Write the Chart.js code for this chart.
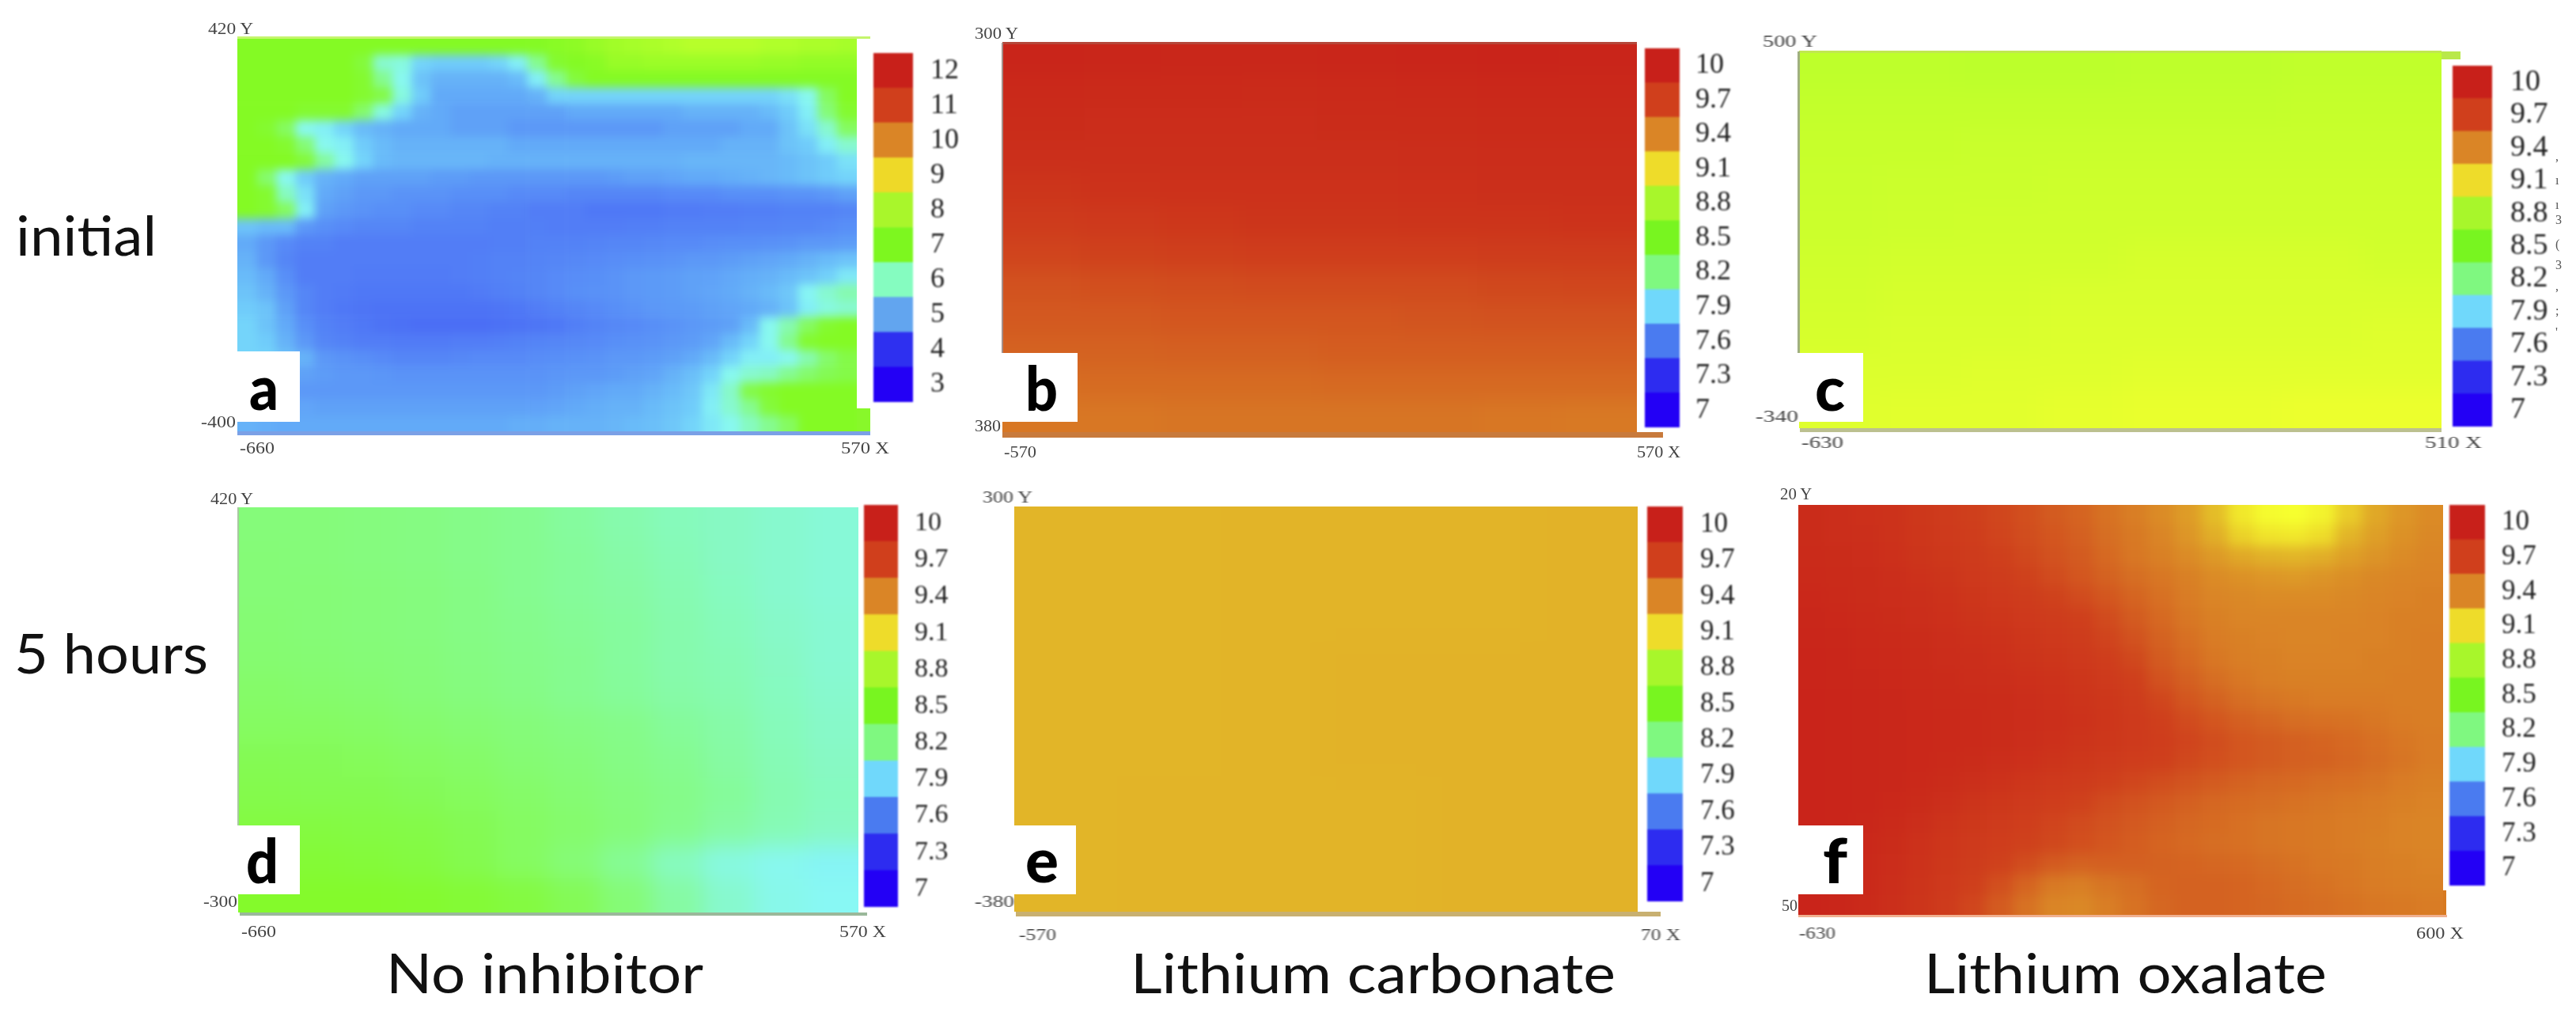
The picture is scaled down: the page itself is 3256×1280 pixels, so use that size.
<!DOCTYPE html>
<html><head><meta charset="utf-8">
<style>
html,body{margin:0;padding:0;background:#fff;width:3256px;height:1280px;overflow:hidden}
.abs{position:absolute}
.txt{position:absolute;white-space:nowrap;transform-origin:0 0}
</style>
<script src="https://cdn.jsdelivr.net/npm/chart.js@4/dist/chart.umd.min.js"></script>
</head><body>
<div id="page" class="abs" style="left:0;top:0;width:3256px;height:1280px"></div>
<script>
// ---- colour-bar tick labels ----
const ticksA = ['3','4','5','6','7','8','9','10','11','12'];
const ticksB = ['7','7.3','7.6','7.9','8.2','8.5','8.8','9.1','9.4','9.7','10'];
const bandsA = ['#2300f5','#2e30f0','#62a5ef','#85fcc0','#7df71f','#a9f62b','#eed928','#da8526','#d03f1c','#c8201a'];
const bandsB = ['#2300f5','#2d2cf0','#4a7bf0','#70d8fb','#7ff880','#78f520','#a8f62b','#eedc2a','#da8526','#d03f1c','#c8201a'];

// ---- pH maps (top row first, left column first) ----
const phA = [
[7.5,7.5,7.5,7.5,7.5,7.5,7.5,7.5,7.5,7.5,7.5,7.5,7.5,7.5,7.5,7.5,7.6,7.7,7.9,8.1,8.2,8.3,8.4,8.5,8.5,8.5,8.5,8.4,8.4,8.3,8.3,8.2],
[7.5,7.5,7.5,7.5,7.5,7.5,7.3,6.2,6.1,5.7,5.6,5.6,5.6,5.7,5.9,6.6,7.4,7.5,7.6,7.9,7.9,8.0,8.0,8.0,8.0,8.0,8.0,7.9,7.9,7.8,7.8,7.8],
[7.5,7.5,7.5,7.5,7.5,7.5,7.4,6.6,6.0,5.5,5.3,5.3,5.3,5.3,5.4,5.9,6.6,7.3,7.5,7.5,7.5,7.5,7.5,7.5,7.5,7.5,7.5,7.5,7.5,7.5,7.5,7.5],
[7.5,7.5,7.5,7.5,7.5,7.5,7.4,7.2,6.1,5.6,5.2,5.2,5.2,5.2,5.2,5.3,5.7,5.7,5.7,5.7,5.7,5.7,5.7,5.7,5.7,5.7,5.7,5.7,5.8,6.0,7.0,7.5],
[7.5,7.5,7.5,7.4,7.4,7.4,6.9,6.1,5.7,5.3,5.2,5.1,5.1,5.1,5.1,5.1,5.1,5.2,5.2,5.2,5.2,5.2,5.2,5.3,5.3,5.3,5.3,5.4,5.6,5.9,6.8,7.4],
[7.5,7.4,7.0,6.0,5.9,5.7,5.4,5.3,5.2,5.2,5.2,5.1,5.1,5.1,5.0,5.0,5.0,5.0,5.0,5.0,5.0,5.0,5.1,5.1,5.1,5.1,5.2,5.2,5.5,5.8,6.2,7.0],
[7.5,7.5,7.4,6.8,6.0,5.9,5.6,5.4,5.3,5.3,5.3,5.3,5.3,5.3,5.2,5.2,5.2,5.2,5.2,5.2,5.2,5.2,5.2,5.2,5.2,5.3,5.3,5.3,5.5,5.6,5.9,6.2],
[7.5,7.5,7.5,7.3,6.5,6.0,5.7,5.4,5.35,5.35,5.35,5.35,5.35,5.3,5.3,5.3,5.3,5.3,5.3,5.3,5.3,5.3,5.3,5.35,5.35,5.35,5.35,5.35,5.4,5.5,5.6,5.8],
[7.5,6.9,6.0,5.6,5.3,5.2,5.1,5.1,5.1,5.1,5.05,5.05,5.0,5.0,5.0,5.0,5.0,5.0,5.0,5.05,5.1,5.1,5.15,5.2,5.2,5.25,5.3,5.35,5.4,5.5,5.6,5.7],
[7.5,7.4,6.3,5.8,5.2,5.1,5.0,5.0,4.95,4.95,4.95,4.9,4.9,4.9,4.85,4.85,4.85,4.8,4.8,4.8,4.8,4.8,4.85,4.85,4.85,4.9,4.9,4.9,4.95,4.95,5.0,5.1],
[7.5,7.4,7.0,5.9,5.1,5.0,4.95,4.9,4.9,4.85,4.85,4.8,4.8,4.75,4.75,4.7,4.7,4.7,4.65,4.65,4.65,4.65,4.68,4.68,4.7,4.7,4.72,4.72,4.75,4.75,4.75,4.8],
[5.5,5.4,5.4,5.0,4.9,4.85,4.8,4.8,4.8,4.75,4.75,4.75,4.75,4.72,4.72,4.72,4.7,4.7,4.7,4.7,4.72,4.72,4.75,4.75,4.75,4.75,4.78,4.78,4.8,4.8,4.85,4.9],
[5.2,5.0,4.85,4.75,4.75,4.7,4.7,4.7,4.7,4.7,4.7,4.7,4.7,4.72,4.72,4.75,4.75,4.75,4.78,4.8,4.8,4.82,4.85,4.85,4.88,4.9,4.9,4.92,4.95,5.0,5.0,5.05],
[5.3,5.0,4.8,4.7,4.7,4.7,4.7,4.7,4.7,4.7,4.7,4.7,4.72,4.75,4.75,4.78,4.8,4.82,4.85,4.88,4.9,4.92,4.95,5.0,5.0,5.05,5.1,5.15,5.2,5.3,5.4,5.5],
[5.4,5.2,4.9,4.7,4.7,4.7,4.68,4.68,4.68,4.68,4.68,4.7,4.72,4.75,4.78,4.8,4.85,4.88,4.9,4.95,5.0,5.02,5.05,5.1,5.12,5.18,5.25,5.3,5.4,5.5,5.65,5.85],
[5.5,5.3,5.0,4.8,4.7,4.68,4.65,4.65,4.65,4.65,4.65,4.65,4.68,4.72,4.75,4.8,4.85,4.9,4.92,4.95,5.0,5.02,5.05,5.1,5.15,5.2,5.3,5.4,5.55,5.95,6.2,6.4],
[5.6,5.5,5.1,4.8,4.7,4.65,4.62,4.6,4.6,4.6,4.6,4.6,4.6,4.62,4.65,4.7,4.75,4.8,4.85,4.9,4.95,5.0,5.02,5.05,5.1,5.15,5.2,5.3,5.5,5.9,6.1,6.2],
[5.7,5.5,5.2,4.9,4.75,4.7,4.65,4.6,4.58,4.55,4.55,4.55,4.55,4.58,4.6,4.62,4.65,4.72,4.78,4.82,4.85,4.9,4.95,5.0,5.05,5.1,5.4,6.0,6.4,7.0,7.4,7.5],
[5.7,5.6,5.3,5.0,4.8,4.75,4.7,4.7,4.68,4.68,4.68,4.7,4.7,4.72,4.75,4.78,4.8,4.82,4.85,4.9,4.92,4.95,5.0,5.05,5.15,5.4,5.7,6.0,6.6,7.4,7.5,7.5],
[5.7,5.7,5.5,5.3,5.0,4.95,4.9,4.85,4.8,4.8,4.8,4.82,4.85,4.85,4.85,4.88,4.9,4.92,4.95,5.0,5.0,5.05,5.1,5.2,5.4,5.7,5.9,5.9,6.0,6.4,6.9,7.2],
[5.5,5.4,5.2,5.1,5.05,5.0,5.0,4.98,4.95,4.95,4.95,4.95,4.95,4.95,4.95,4.95,4.98,5.0,5.0,5.05,5.1,5.15,5.3,5.45,5.7,6.0,6.2,6.3,6.6,6.9,7.1,7.2],
[5.3,5.2,5.1,5.0,5.0,5.0,5.0,5.0,5.0,5.0,5.0,5.0,5.0,5.0,5.0,5.0,5.05,5.1,5.15,5.2,5.2,5.3,5.4,5.55,5.85,6.25,7.2,7.4,7.5,7.5,7.5,7.5],
[5.3,5.25,5.2,5.15,5.1,5.1,5.1,5.1,5.1,5.1,5.1,5.1,5.1,5.1,5.1,5.12,5.15,5.2,5.25,5.3,5.3,5.4,5.5,5.6,5.9,6.2,6.6,7.3,7.5,7.5,7.5,7.5],
[5.3,5.25,5.2,5.2,5.2,5.2,5.2,5.2,5.2,5.2,5.2,5.2,5.2,5.2,5.25,5.25,5.3,5.3,5.3,5.35,5.4,5.45,5.55,5.7,5.85,6.0,6.3,6.6,7.0,7.5,7.5,7.5]
];
const phB = [
[9.95,9.94,9.93,9.93,9.94,9.95,9.96,9.95],
[9.91,9.9,9.9,9.89,9.9,9.91,9.92,9.92],
[9.88,9.87,9.87,9.87,9.88,9.88,9.89,9.89],
[9.85,9.85,9.85,9.85,9.85,9.86,9.87,9.87],
[9.8,9.82,9.83,9.83,9.83,9.84,9.85,9.85],
[9.74,9.76,9.78,9.8,9.8,9.81,9.81,9.82],
[9.68,9.69,9.7,9.72,9.72,9.72,9.73,9.73],
[9.62,9.63,9.64,9.65,9.65,9.65,9.66,9.67],
[9.59,9.59,9.6,9.6,9.6,9.61,9.62,9.62],
[9.55,9.55,9.56,9.56,9.57,9.57,9.57,9.57],
[9.5,9.51,9.51,9.51,9.52,9.52,9.52,9.52],
[9.46,9.46,9.47,9.47,9.47,9.47,9.46,9.45]
];
const phC = [
[8.87,8.87,8.86,8.86,8.87,8.87,8.88,8.88],
[8.89,8.89,8.89,8.89,8.89,8.89,8.9,8.9],
[8.91,8.91,8.92,8.92,8.92,8.92,8.92,8.92],
[8.92,8.93,8.93,8.94,8.94,8.94,8.94,8.94],
[8.93,8.94,8.95,8.95,8.95,8.95,8.95,8.95],
[8.95,8.96,8.96,8.96,8.97,8.97,8.97,8.96],
[8.96,8.97,8.97,8.98,8.98,8.98,8.98,8.98],
[8.97,8.98,8.98,8.99,8.99,8.99,8.99,9.0],
[8.99,8.99,9.0,9.0,9.01,9.01,9.01,9.01],
[9.0,9.01,9.01,9.02,9.03,9.03,9.04,9.04]
];
const phD = [
[8.26,8.26,8.25,8.24,8.22,8.2,8.17,8.14,8.11,8.09,8.07,8.05],
[8.27,8.26,8.25,8.24,8.22,8.2,8.18,8.15,8.12,8.09,8.07,8.05],
[8.27,8.27,8.26,8.25,8.23,8.2,8.18,8.16,8.13,8.1,8.07,8.05],
[8.28,8.27,8.26,8.25,8.23,8.21,8.19,8.17,8.14,8.11,8.08,8.06],
[8.29,8.28,8.27,8.26,8.24,8.22,8.2,8.17,8.14,8.12,8.09,8.06],
[8.31,8.3,8.29,8.27,8.25,8.23,8.2,8.18,8.15,8.13,8.1,8.07],
[8.33,8.33,8.32,8.3,8.28,8.26,8.24,8.22,8.18,8.15,8.11,8.08],
[8.37,8.36,8.35,8.33,8.31,8.28,8.26,8.23,8.2,8.16,8.12,8.09],
[8.39,8.38,8.38,8.36,8.34,8.31,8.28,8.25,8.22,8.18,8.13,8.1],
[8.42,8.42,8.41,8.4,8.37,8.33,8.3,8.26,8.21,8.16,8.12,8.09],
[8.45,8.45,8.44,8.42,8.38,8.33,8.27,8.19,8.1,8.03,8.0,7.98],
[8.48,8.48,8.48,8.47,8.45,8.42,8.36,8.27,8.16,8.07,8.01,7.99]
];
const phE = [
[9.235,9.235,9.24,9.24,9.24,9.245],
[9.235,9.235,9.24,9.24,9.24,9.245],
[9.235,9.235,9.24,9.245,9.245,9.245],
[9.235,9.235,9.24,9.245,9.245,9.245],
[9.235,9.24,9.24,9.24,9.245,9.245],
[9.235,9.24,9.24,9.24,9.245,9.245]
];
const phF = [
[9.88,9.86,9.84,9.82,9.78,9.74,9.7,9.67,9.63,9.58,9.54,9.48,9.43,9.38,9.32,9.22,9.13,9.08,9.07,9.1,9.19,9.28,9.34,9.38],
[9.88,9.86,9.85,9.82,9.79,9.75,9.72,9.68,9.64,9.6,9.56,9.5,9.45,9.4,9.34,9.26,9.18,9.14,9.13,9.16,9.24,9.31,9.36,9.39],
[9.89,9.88,9.87,9.84,9.8,9.77,9.74,9.7,9.66,9.62,9.58,9.52,9.46,9.42,9.38,9.33,9.28,9.25,9.24,9.26,9.31,9.35,9.38,9.4],
[9.9,9.89,9.88,9.86,9.83,9.8,9.76,9.73,9.69,9.65,9.6,9.55,9.5,9.46,9.42,9.38,9.36,9.34,9.33,9.35,9.37,9.39,9.4,9.41],
[9.92,9.9,9.88,9.87,9.85,9.82,9.79,9.76,9.73,9.69,9.65,9.6,9.54,9.49,9.44,9.4,9.39,9.38,9.38,9.38,9.39,9.4,9.41,9.42],
[9.93,9.92,9.9,9.88,9.86,9.84,9.81,9.79,9.76,9.73,9.7,9.65,9.58,9.52,9.46,9.42,9.4,9.4,9.4,9.4,9.4,9.41,9.42,9.42],
[9.94,9.93,9.91,9.9,9.88,9.86,9.84,9.82,9.79,9.76,9.73,9.68,9.62,9.55,9.49,9.44,9.42,9.41,9.4,9.4,9.41,9.41,9.42,9.43],
[9.95,9.94,9.92,9.91,9.89,9.87,9.86,9.84,9.81,9.79,9.76,9.72,9.66,9.58,9.52,9.46,9.43,9.42,9.41,9.41,9.41,9.42,9.42,9.43],
[9.95,9.94,9.93,9.92,9.9,9.89,9.87,9.86,9.84,9.82,9.79,9.75,9.7,9.62,9.56,9.5,9.46,9.43,9.42,9.42,9.42,9.42,9.43,9.43],
[9.96,9.95,9.94,9.93,9.91,9.9,9.89,9.88,9.86,9.84,9.81,9.78,9.73,9.67,9.6,9.55,9.5,9.47,9.45,9.44,9.44,9.44,9.43,9.43],
[9.96,9.95,9.94,9.93,9.92,9.91,9.9,9.88,9.87,9.85,9.82,9.79,9.75,9.7,9.65,9.6,9.56,9.53,9.5,9.49,9.48,9.46,9.44,9.43],
[9.96,9.95,9.94,9.93,9.92,9.91,9.9,9.88,9.86,9.84,9.81,9.78,9.75,9.72,9.68,9.64,9.6,9.58,9.56,9.54,9.52,9.49,9.46,9.44],
[9.96,9.95,9.94,9.93,9.92,9.9,9.88,9.86,9.84,9.81,9.78,9.75,9.72,9.7,9.66,9.63,9.6,9.58,9.56,9.55,9.53,9.5,9.47,9.44],
[9.96,9.95,9.94,9.93,9.91,9.88,9.85,9.82,9.79,9.76,9.74,9.7,9.67,9.64,9.61,9.58,9.55,9.53,9.52,9.5,9.49,9.47,9.44,9.42],
[9.96,9.95,9.94,9.92,9.89,9.85,9.81,9.78,9.75,9.72,9.69,9.65,9.62,9.59,9.56,9.53,9.51,9.5,9.48,9.47,9.45,9.44,9.42,9.41],
[9.96,9.95,9.93,9.9,9.86,9.81,9.77,9.74,9.71,9.68,9.65,9.62,9.59,9.56,9.53,9.51,9.49,9.47,9.46,9.45,9.44,9.43,9.41,9.4],
[9.96,9.95,9.92,9.88,9.83,9.79,9.75,9.72,9.69,9.66,9.63,9.6,9.57,9.54,9.52,9.5,9.49,9.47,9.46,9.45,9.44,9.42,9.41,9.4],
[9.96,9.94,9.91,9.87,9.82,9.77,9.73,9.69,9.64,9.58,9.55,9.56,9.56,9.55,9.54,9.53,9.52,9.5,9.48,9.46,9.45,9.43,9.42,9.41],
[9.96,9.94,9.91,9.86,9.81,9.76,9.7,9.63,9.54,9.45,9.43,9.47,9.5,9.54,9.55,9.55,9.54,9.52,9.5,9.48,9.46,9.44,9.43,9.42],
[9.96,9.94,9.9,9.85,9.8,9.74,9.67,9.58,9.48,9.4,9.39,9.43,9.48,9.53,9.55,9.55,9.54,9.53,9.51,9.5,9.48,9.46,9.45,9.44]
];

// ---- continuous colour ramp used for the map cells, position on the scale -> colour ----
const rampStops = [0,.1,.19,.25,.3,.33,.4,.5,.6,.65,.69,.72,.745,.8,.9,.98,1];
const rampColors = ['#2300f5','#2d2cf0','#527ef6','#64aef8','#74d4fa','#88f8f4','#85fb90','#84fa24','#b0ff2a','#cfff2c','#f6ff2e','#eedc2a','#e2b528','#da8526','#cf3f1c','#c9261a','#c8201a'];

// ---- panel layout ----
const panels = [
 {ph:phA,xr:[-660,570],yr:[-400,420],plot:[300,48,1083,545],blur:6,ticks:ticksA,bands:bandsA,vr:[3,12],
  bar:[1104,67,1154,508],barFont:36,labelX:1176,box:[300,444,379,533],letter:['a',315,518,37],
  axis:[['420 Y',263,43,58],['-400',254,540,44],['-660',303,573,44],['570 X',1063,573,61]],
  strips:[[1083,516,17,29,'#88f82a'],[300,46,800,3,'#c4f56c'],[300,545,800,5,'#7ba0e6']]},
 {ph:phB,xr:[-570,570],yr:[-380,300],plot:[1267,54,2069,546],blur:13,ticks:ticksB,bands:bandsB,vr:[7,10],
  bar:[2079,61,2123,540],barFont:36,labelX:2143,box:[1267,446,1362,533],letter:['b',1296,519,41],
  axis:[['300 Y',1232,49,56],['380',1232,545,33],['-570',1269,578,41],['570 X',2069,578,55]],
  strips:[[1267,53,802,3,'#b5473a'],[1267,546,835,7,'#c87a3c'],[1266,54,2,392,'#a58e88']]},
 {ph:phC,xr:[-630,510],yr:[-340,500],plot:[2274,65,3086,541],blur:15,ticks:ticksB,bands:bandsB,vr:[7,10],
  bar:[3100,83,3150,539],barFont:38,labelX:3173,box:[2274,446,2355,533],letter:['c',2294,519,38],
  axis:[['500 Y',2228,59,70],['-340',2219,533,54],['-630',2277,566,53],['510 X',3065,566,72]],
  strips:[[3086,65,24,10,'#b9e84a'],[2274,64,812,3,'#c0e850'],[2275,541,811,5,'#bcc090'],[2272,65,3,381,'#a0b080']]},
 {ph:phD,xr:[-660,570],yr:[-300,420],plot:[301,641,1085,1153],blur:14,ticks:ticksB,bands:bandsB,vr:[7,10],
  bar:[1092,638,1135,1146],barFont:34,labelX:1156,box:[301,1043,379,1130],letter:['d',311,1116,41],
  axis:[['420 Y',266,637,55],['-300',257,1146,43],['-660',305,1184,44],['570 X',1061,1184,59]],
  strips:[[303,1153,793,4,'#9ab89a'],[300,641,2,402,'#a8c8a0']]},
 {ph:phE,xr:[-570,70],yr:[-380,300],plot:[1282,640,2070,1152],blur:25,ticks:ticksB,bands:bandsB,vr:[7,10],
  bar:[2082,640,2127,1139],barFont:35,labelX:2149,box:[1282,1043,1360,1130],letter:['e',1296,1115,42],
  axis:[['300 Y',1242,635,64],['-380',1232,1146,50],['-570',1288,1188,47],['70 X',2074,1188,50]],
  strips:[[1284,1152,815,6,'#c8b070']]},
 {ph:phF,xr:[-630,600],yr:[-350,420],plot:[2273,638,3088,1156],blur:8,ticks:ticksB,bands:bandsB,vr:[7,10],
  bar:[3096,638,3141,1119],barFont:35,labelX:3162,box:[2273,1043,2355,1130],letter:['f',2304,1116,31],
  axis:[['20 Y',2250,631,41],['50',2252,1151,20],['-630',2274,1186,46],['600 X',3054,1186,60]],
  strips:[[3088,1125,4,31,'#d87a20'],[2273,1156,820,3,'#f0b090']]}
];
const titles = [['initial',20,323,178],['5 hours',18,851,245],['No inhibitor',488,1255,401],['Lithium carbonate',1429,1255,613],['Lithium oxalate',2432,1255,509]];
const strayMarks = [[',',203],['ı',233],['ı',264],['3',283],['(',314],['3',340],[',',367],[';',398],["'",425]];

// ---- helpers ----
const page = document.getElementById('page');
function hexRgb(h){return [1,3,5].map(i=>parseInt(h.substr(i,2),16));}
function rampColor(t){
  t=Math.max(0,Math.min(1,t));
  let i=0; while(i<rampStops.length-2 && t>rampStops[i+1]) i++;
  const f=(t-rampStops[i])/(rampStops[i+1]-rampStops[i]);
  const a=hexRgb(rampColors[i]),b=hexRgb(rampColors[i+1]);
  return 'rgb('+a.map((v,k)=>Math.round(v+(b[k]-v)*f)).join(',')+')';
}
const measure=document.createElement('canvas').getContext('2d');
function text(str,x,base,size,family,opt={}){
  const font=(opt.weight||'400')+' '+size+'px '+family;
  measure.font=font;
  const m=measure.measureText(str);
  const A=m.fontBoundingBoxAscent,D=m.fontBoundingBoxDescent;
  const top=base-((size-(A+D))/2+A);
  const s=document.createElement('div');
  s.className='txt'; s.textContent=str;
  s.style.cssText+=`left:${x}px;top:${top}px;font:${font};line-height:${size}px;color:${opt.color||'#111'};`;
  if(opt.width) s.style.transform=`scaleX(${opt.width/m.width})`;
  if(opt.blur) s.style.filter=`blur(${opt.blur}px)`;
  page.appendChild(s);
}
function rect(x,y,w,h,c){
  const d=document.createElement('div');d.className='abs';
  d.style.cssText+=`left:${x}px;top:${y}px;width:${w}px;height:${h}px;background:${c}`;
  page.appendChild(d);
}
const quiet={animation:false,responsive:false,maintainAspectRatio:false,events:[],
  plugins:{legend:{display:false},tooltip:{enabled:false},title:{display:false}},layout:{padding:0}};

function drawHeat(p){
  const [x0,y0,x1,y1]=p.plot, W=x1-x0, H=y1-y0;
  const rows=p.ph.length, cols=p.ph[0].length, cw=W/cols, ch=H/rows;
  const wrap=document.createElement('div');wrap.className='abs';
  wrap.style.cssText+=`left:${x0}px;top:${y0}px;width:${W}px;height:${H}px;overflow:hidden`;
  const cv=document.createElement('canvas');
  cv.width=Math.round(W+2*cw);cv.height=Math.round(H+2*ch);
  cv.style.cssText=`position:absolute;left:${-cw}px;top:${-ch}px;width:${W+2*cw}px;height:${H+2*ch}px;filter:blur(${p.blur}px)`;
  wrap.appendChild(cv);page.appendChild(wrap);
  // one margin cell on every side repeats the edge so the soft blur has no fade at the plot border
  const ystep=(p.yr[1]-p.yr[0])/rows, xstep=(p.xr[1]-p.xr[0])/cols;
  const labels=[];for(let c=-1;c<=cols;c++)labels.push(p.xr[0]+(c+.5)*xstep);
  const datasets=[];
  for(let r=-1;r<=rows;r++){
    const src=p.ph[Math.max(0,Math.min(rows-1,r))];
    const hi=p.yr[1]-r*ystep, lo=hi-ystep;
    const vals=labels.map((_,i)=>src[Math.max(0,Math.min(cols-1,i-1))]);
    datasets.push({data:vals.map(()=>[lo,hi]),
      backgroundColor:vals.map(v=>rampColor((v-p.vr[0])/(p.vr[1]-p.vr[0]))),
      borderWidth:0,barPercentage:1,categoryPercentage:1});
  }
  new Chart(cv,{type:'bar',data:{labels,datasets},options:{...quiet,
    scales:{x:{display:false,stacked:true},
            y:{display:false,stacked:false,min:p.yr[0]-ystep,max:p.yr[1]+ystep}}}});
}
function drawBar(p){
  const [x0,y0,x1,y1]=p.bar, bw=x1-x0, H=y1-y0, axisW=110;
  const cv=document.createElement('canvas');cv.width=bw+axisW;cv.height=H;
  cv.style.cssText=`position:absolute;left:${x0}px;top:${y0}px;filter:blur(.9px)`;
  page.appendChild(cv);
  const n=p.ticks.length;
  new Chart(cv,{type:'bar',data:{labels:['pH'],datasets:p.ticks.map((t,i)=>({label:t,data:[1],backgroundColor:p.bands[i],borderWidth:0,barPercentage:1,categoryPercentage:1}))},
    options:{...quiet,scales:{
      x:{display:false,stacked:true},
      y:{stacked:true,position:'right',min:0,max:n,
        grid:{display:false,drawTicks:false},border:{display:false},
        afterBuildTicks:a=>{a.ticks=p.ticks.map((_,i)=>({value:i+.5}));},
        afterFit:a=>{a.width=axisW;a.paddingTop=0;a.paddingBottom=0;},
        ticks:{autoSkip:false,padding:p.labelX-x1,color:'#222',
          font:{family:'"Liberation Serif"',size:p.barFont},
          callback:v=>p.ticks[Math.round(v-.5)]}}}}});
}

panels.forEach(p=>{
  drawHeat(p);
  p.strips.forEach(s=>rect(...s));
  const b=p.box;rect(b[0],b[1],b[2]-b[0],b[3]-b[1],'#fff');
  drawBar(p);
  p.axis.forEach(a=>text(a[0],a[1],a[2],22,'"Liberation Serif"',{width:a[3],color:'#444',blur:.7}));
  const l=p.letter;
  text(l[0],l[1],l[2],78,'Lato',{weight:'900',color:'#000',width:l[3],blur:.7});
});
titles.forEach(t=>text(t[0],t[1],t[2],70,'Lato',{width:t[3],color:'#111',blur:.7}));
strayMarks.forEach(m=>text(m[0],3230,m[1],16,'"Liberation Serif"',{color:'#555',blur:.5}));
</script>
</body></html>
